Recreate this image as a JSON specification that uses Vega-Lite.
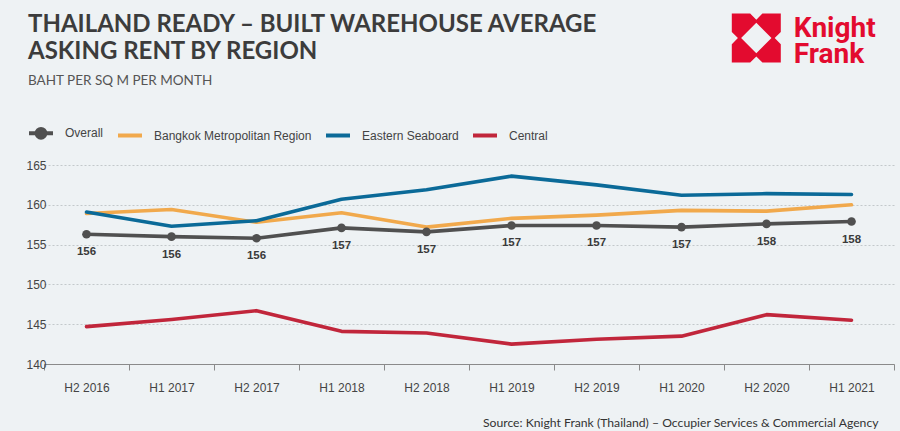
{
  "$schema": "https://vega.github.io/schema/vega-lite/v6.json",
  "width": 850,
  "height": 199,
  "autosize": {"type": "none"},
  "padding": {"left": 44, "top": 165, "right": 6, "bottom": 67},
  "background": "#eef2f4",
  "config": {"view": {"stroke": null}},
  "title": {
    "text": ["THAILAND READY – BUILT WAREHOUSE AVERAGE", "ASKING RENT BY REGION"],
    "subtitle": "BAHT PER SQ M PER MONTH",
    "anchor": "start",
    "frame": "group",
    "font": "Lato",
    "fontSize": 24,
    "fontWeight": "bold",
    "color": "#3c3c3c",
    "lineHeight": 27,
    "subtitleFont": "Lato",
    "subtitleFontSize": 13.5,
    "subtitleColor": "#555555",
    "subtitlePadding": 10,
    "dx": -16,
    "dy": 74,
    "offset": 0
  },
  "datasets": {
    "rent": [
      {"period": "H2 2016", "series": "Bangkok Metropolitan Region", "value": 158.9},
      {"period": "H1 2017", "series": "Bangkok Metropolitan Region", "value": 159.4},
      {"period": "H2 2017", "series": "Bangkok Metropolitan Region", "value": 157.8},
      {"period": "H1 2018", "series": "Bangkok Metropolitan Region", "value": 159.0},
      {"period": "H2 2018", "series": "Bangkok Metropolitan Region", "value": 157.2},
      {"period": "H1 2019", "series": "Bangkok Metropolitan Region", "value": 158.3},
      {"period": "H2 2019", "series": "Bangkok Metropolitan Region", "value": 158.7},
      {"period": "H1 2020", "series": "Bangkok Metropolitan Region", "value": 159.3},
      {"period": "H2 2020", "series": "Bangkok Metropolitan Region", "value": 159.2},
      {"period": "H1 2021", "series": "Bangkok Metropolitan Region", "value": 160.0},
      {"period": "H2 2016", "series": "Eastern Seaboard", "value": 159.1},
      {"period": "H1 2017", "series": "Eastern Seaboard", "value": 157.3},
      {"period": "H2 2017", "series": "Eastern Seaboard", "value": 158.0},
      {"period": "H1 2018", "series": "Eastern Seaboard", "value": 160.7},
      {"period": "H2 2018", "series": "Eastern Seaboard", "value": 161.9},
      {"period": "H1 2019", "series": "Eastern Seaboard", "value": 163.6},
      {"period": "H2 2019", "series": "Eastern Seaboard", "value": 162.5},
      {"period": "H1 2020", "series": "Eastern Seaboard", "value": 161.2},
      {"period": "H2 2020", "series": "Eastern Seaboard", "value": 161.4},
      {"period": "H1 2021", "series": "Eastern Seaboard", "value": 161.3},
      {"period": "H2 2016", "series": "Central", "value": 144.7},
      {"period": "H1 2017", "series": "Central", "value": 145.6},
      {"period": "H2 2017", "series": "Central", "value": 146.7},
      {"period": "H1 2018", "series": "Central", "value": 144.1},
      {"period": "H2 2018", "series": "Central", "value": 143.9},
      {"period": "H1 2019", "series": "Central", "value": 142.5},
      {"period": "H2 2019", "series": "Central", "value": 143.1},
      {"period": "H1 2020", "series": "Central", "value": 143.5},
      {"period": "H2 2020", "series": "Central", "value": 146.2},
      {"period": "H1 2021", "series": "Central", "value": 145.5},
      {"period": "H2 2016", "series": "Overall", "value": 156.3},
      {"period": "H1 2017", "series": "Overall", "value": 156.0},
      {"period": "H2 2017", "series": "Overall", "value": 155.8},
      {"period": "H1 2018", "series": "Overall", "value": 157.1},
      {"period": "H2 2018", "series": "Overall", "value": 156.6},
      {"period": "H1 2019", "series": "Overall", "value": 157.4},
      {"period": "H2 2019", "series": "Overall", "value": 157.4},
      {"period": "H1 2020", "series": "Overall", "value": 157.2},
      {"period": "H2 2020", "series": "Overall", "value": 157.6},
      {"period": "H1 2021", "series": "Overall", "value": 157.9}
    ]
  },
  "data": {"name": "rent"},
  "encoding": {
    "x": {
      "field": "period", "type": "nominal", "sort": null,
      "scale": {"type": "band", "paddingInner": 0, "paddingOuter": 0},
      "axis": {
        "title": "Source: Knight Frank (Thailand) – Occupier Services & Commercial Agency",
        "titleX": 834, "titleY": 58, "titleAlign": "right", "titleBaseline": "middle",
        "titleFont": "Lato", "titleFontSize": 12.2, "titleFontWeight": "normal", "titleColor": "#333333",
        "labelAngle": 0, "tickBand": "extent", "tickSize": 6, "tickColor": "#8a8a8a",
        "domainColor": "#8a8a8a", "labelFont": "Liberation Sans", "labelFontSize": 12,
        "labelColor": "#444444", "labelPadding": 12, "grid": false
      }
    },
    "y": {
      "field": "value", "type": "quantitative",
      "scale": {"domain": [140, 165], "nice": false, "zero": false},
      "axis": {
        "title": null, "values": [140, 145, 150, 155, 160, 165], "tickCount": 6, "grid": true,
        "gridDash": [2, 2], "gridColor": "#c3c8cb", "domain": false, "ticks": false,
        "labelOverlap": false, "labelPadding": -2, "labelFont": "Liberation Sans", "labelFontSize": 12, "labelColor": "#444444"
      }
    }
  },
  "layer": [
    {
      "mark": {"type": "line", "strokeWidth": 3.6, "strokeCap": "round", "strokeJoin": "round"},
      "encoding": {
        "color": {
          "field": "series", "type": "nominal",
          "scale": {
            "domain": ["Overall", "Bangkok Metropolitan Region", "Eastern Seaboard", "Central"],
            "range": ["#505050", "#f1a94c", "#0b6a98", "#c1263b"]
          },
          "legend": {
            "title": null, "orient": "none", "legendX": -17, "legendY": -46,
            "direction": "horizontal", "columns": 4, "columnPadding": 6,
            "symbolType": "stroke", "symbolSize": 576, "symbolStrokeWidth": 4,
            "labelOffset": 10, "labelFont": "Liberation Sans", "labelFontSize": 12, "labelColor": "#444444",
            "encode": {
              "symbols": {
                "update": {
                  "shape": [
                    {"test": "datum.value === 'Overall'", "value": "M-1,0H1M0.36,0A0.36,0.36 0 1,1 -0.36,0A0.36,0.36 0 1,1 0.36,0Z"},
                    {"value": "stroke"}
                  ],
                  "fill": [
                    {"test": "datum.value === 'Overall'", "value": "#505050"},
                    {"value": "transparent"}
                  ]
                }
              }
            }
          }
        }
      }
    },
    {
      "transform": [{"filter": "datum.series === 'Overall'"}],
      "mark": {"type": "point", "filled": true, "size": 75, "opacity": 1, "color": "#505050"}
    },
    {
      "transform": [{"filter": "datum.series === 'Overall'"}],
      "mark": {"type": "text", "dy": 18, "font": "Liberation Sans", "fontSize": 11.5, "fontWeight": "bold", "color": "#3a3a3a", "baseline": "middle"},
      "encoding": {
        "text": {"field": "value", "type": "quantitative", "format": ".0f"}
      }
    },
    {
      "data": {"values": [{"brand": "Knight Frank", "level": 180.95}]},
      "mark": {
        "type": "point", "filled": true, "opacity": 1, "fill": "#e30b2f", "strokeWidth": 0, "size": 2401, "clip": false,
        "shape": "M-1,-1L-0.25,-1L0,-0.75L0.25,-1L1,-1L1,-0.25L0.75,0L1,0.25L1,1L0.25,1L0,0.75L-0.25,1L-1,1L-1,0.25L-0.75,0L-1,-0.25ZM0,-0.62L-0.62,0L0,0.62L0.62,0Z"
      },
      "encoding": {
        "x": {"datum": "H2 2020", "bandPosition": 0.38},
        "y": {"field": "level", "type": "quantitative"}
      }
    },
    {
      "data": {"values": [{"word": "Knight", "level": 181.1}, {"word": "Frank", "level": 177.8}]},
      "mark": {"type": "text", "align": "left", "baseline": "alphabetic", "font": "Roboto", "fontSize": 28, "fontWeight": "bold", "color": "#e30b2f", "clip": false},
      "encoding": {
        "x": {"datum": "H2 2020", "bandPosition": 0.82},
        "y": {"field": "level", "type": "quantitative"},
        "text": {"field": "word", "type": "nominal"}
      }
    }
  ]
}
